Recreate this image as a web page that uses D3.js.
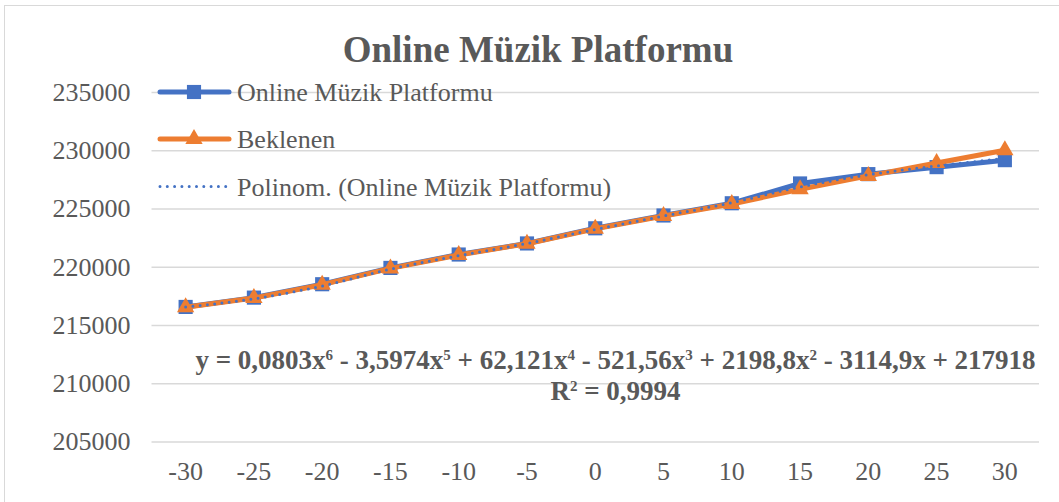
<!DOCTYPE html>
<html>
<head>
<meta charset="utf-8">
<script src="https://cdn.jsdelivr.net/npm/d3@7"></script>
<style>
    body { margin: 0; background: #fff; }
    text { font-family: "Liberation Serif", "Times New Roman", serif; fill: #595959; }
</style>
</head>
<body>
<script>
const categories = [-30, -25, -20, -15, -10, -5, 0, 5, 10, 15, 20, 25, 30];
const onlineValues = [216550, 217350, 218500, 219900, 221050, 222000, 223300, 224400, 225450, 227150, 227950, 228550, 229150];
const expectedValues = [216530, 217320, 218460, 219860, 221010, 221980, 223260, 224360, 225380, 226650, 227800, 228900, 230000];
const trendValues = [216540, 217250, 218350, 219800, 220950, 222000, 223200, 224350, 225500, 226850, 227900, 228650, 229300];
const yTicks = [205000, 210000, 215000, 220000, 225000, 230000, 235000];
const legendLabels = ['Online Müzik Platformu', 'Beklenen', 'Polinom. (Online Müzik Platformu)'];
const equationText = ['y = 0,0803x', '6', ' - 3,5974x', '5', ' + 62,121x', '4', ' - 521,56x', '3', ' + 2198,8x', '2', ' - 3114,9x + 217918'];

const chartWidth = 1059;
const chartHeight = 502;
const blue = '#4472C4';
const orange = '#ED7D31';

const chart = d3.select('body')
    .append('svg')
    .attr('width', chartWidth)
    .attr('height', chartHeight);

// outer chart border
chart.append('rect')
    .attr('x', 4.5)
    .attr('y', 5.5)
    .attr('width', 1200)
    .attr('height', 700)
    .attr('fill', 'none')
    .attr('stroke', '#d9d9d9');

const x = d3.scaleBand()
    .domain(categories)
    .range([151.5, 1039]);
const cx = d => x(d) + x.bandwidth() / 2;
const y = d3.scaleLinear()
    .domain([205000, 235000])
    .range([441.5, 92]);

chart.append('text')
    .attr('x', 538)
    .attr('y', 62)
    .attr('text-anchor', 'middle')
    .attr('font-size', 37)
    .attr('font-weight', 'bold')
    .text('Online Müzik Platformu');

const yAxis = d3.axisLeft(y)
    .tickValues(yTicks)
    .tickSize(-(1039 - 151.5))
    .tickPadding(21)
    .tickFormat(d => d);
chart.append('g')
    .attr('transform', 'translate(151.5, 0)')
    .call(yAxis)
    .call(g => g.select('.domain').remove())
    .call(g => g.selectAll('line').attr('stroke', '#d9d9d9').attr('stroke-width', 1.5))
    .call(g => g.selectAll('text').attr('font-size', 26).attr('fill', '#595959'));

const xAxis = d3.axisBottom(x).tickSize(0).tickPadding(20);
chart.append('g')
    .attr('transform', 'translate(0, 441.5)')
    .call(xAxis)
    .call(g => g.select('.domain').remove())
    .call(g => g.selectAll('text').attr('font-size', 26).attr('fill', '#595959'));

const line = d3.line()
    .x((d, i) => cx(categories[i]))
    .y(d => y(d));

const square = d3.symbol().type(d3.symbolSquare).size(200);
const triangle = d3.symbol().type(d3.symbolTriangle).size(130);

chart.append('path')
    .datum(onlineValues)
    .attr('d', line)
    .attr('fill', 'none')
    .attr('stroke', blue)
    .attr('stroke-width', 5)
    .attr('stroke-linejoin', 'round');
chart.selectAll('.sq')
    .data(onlineValues)
    .enter()
    .append('path')
    .attr('class', 'sq')
    .attr('d', square)
    .attr('fill', blue)
    .attr('transform', (d, i) => `translate(${cx(categories[i])}, ${y(d)})`);

chart.append('path')
    .datum(expectedValues)
    .attr('d', line)
    .attr('fill', 'none')
    .attr('stroke', orange)
    .attr('stroke-width', 5)
    .attr('stroke-linejoin', 'round');
chart.selectAll('.tri')
    .data(expectedValues)
    .enter()
    .append('path')
    .attr('class', 'tri')
    .attr('d', triangle)
    .attr('fill', orange)
    .attr('transform', (d, i) => `translate(${cx(categories[i])}, ${y(d)})`);

chart.append('path')
    .datum(trendValues)
    .attr('d', line.curve(d3.curveMonotoneX))
    .attr('fill', 'none')
    .attr('stroke', blue)
    .attr('stroke-width', 3)
    .attr('stroke-linecap', 'round')
    .attr('stroke-dasharray', '0 7.3');

// legend
const legendY = [92, 139, 186.5];
const legend = chart.append('g');
legend.append('line')
    .attr('x1', 160).attr('x2', 229)
    .attr('y1', legendY[0]).attr('y2', legendY[0])
    .attr('stroke', blue).attr('stroke-width', 5).attr('stroke-linecap', 'round');
legend.append('path')
    .attr('d', square)
    .attr('fill', blue)
    .attr('transform', `translate(194, ${legendY[0]})`);
legend.append('line')
    .attr('x1', 160).attr('x2', 229)
    .attr('y1', legendY[1]).attr('y2', legendY[1])
    .attr('stroke', orange).attr('stroke-width', 5).attr('stroke-linecap', 'round');
legend.append('path')
    .attr('d', triangle)
    .attr('fill', orange)
    .attr('transform', `translate(194, ${legendY[1]})`);
legend.append('line')
    .attr('x1', 160).attr('x2', 230)
    .attr('y1', legendY[2]).attr('y2', legendY[2])
    .attr('stroke', blue).attr('stroke-width', 3)
    .attr('stroke-linecap', 'round').attr('stroke-dasharray', '0 7.3');
legend.selectAll('text')
    .data(legendLabels)
    .enter()
    .append('text')
    .attr('x', 237)
    .attr('y', (d, i) => legendY[i])
    .attr('dy', '0.35em')
    .attr('font-size', 26)
    .text(d => d);

// trendline equation
const eq = chart.append('text')
    .attr('x', 615.5)
    .attr('y', 369)
    .attr('text-anchor', 'middle')
    .attr('font-size', 27)
    .attr('font-weight', 'bold');
equationText.forEach((t, i) => {
    const sup = i % 2 === 1;
    eq.append('tspan')
        .attr('font-size', sup ? 15 : 27)
        .attr('dy', sup ? -9 : (i > 0 ? 9 : 0))
        .text(t);
});
const r2 = chart.append('text')
    .attr('x', 615.5)
    .attr('y', 400)
    .attr('text-anchor', 'middle')
    .attr('font-size', 27)
    .attr('font-weight', 'bold');
r2.append('tspan').text('R');
r2.append('tspan').attr('font-size', 15).attr('dy', -9).text('2');
r2.append('tspan').attr('dy', 9).text(' = 0,9994');
</script>
</body>
</html>
